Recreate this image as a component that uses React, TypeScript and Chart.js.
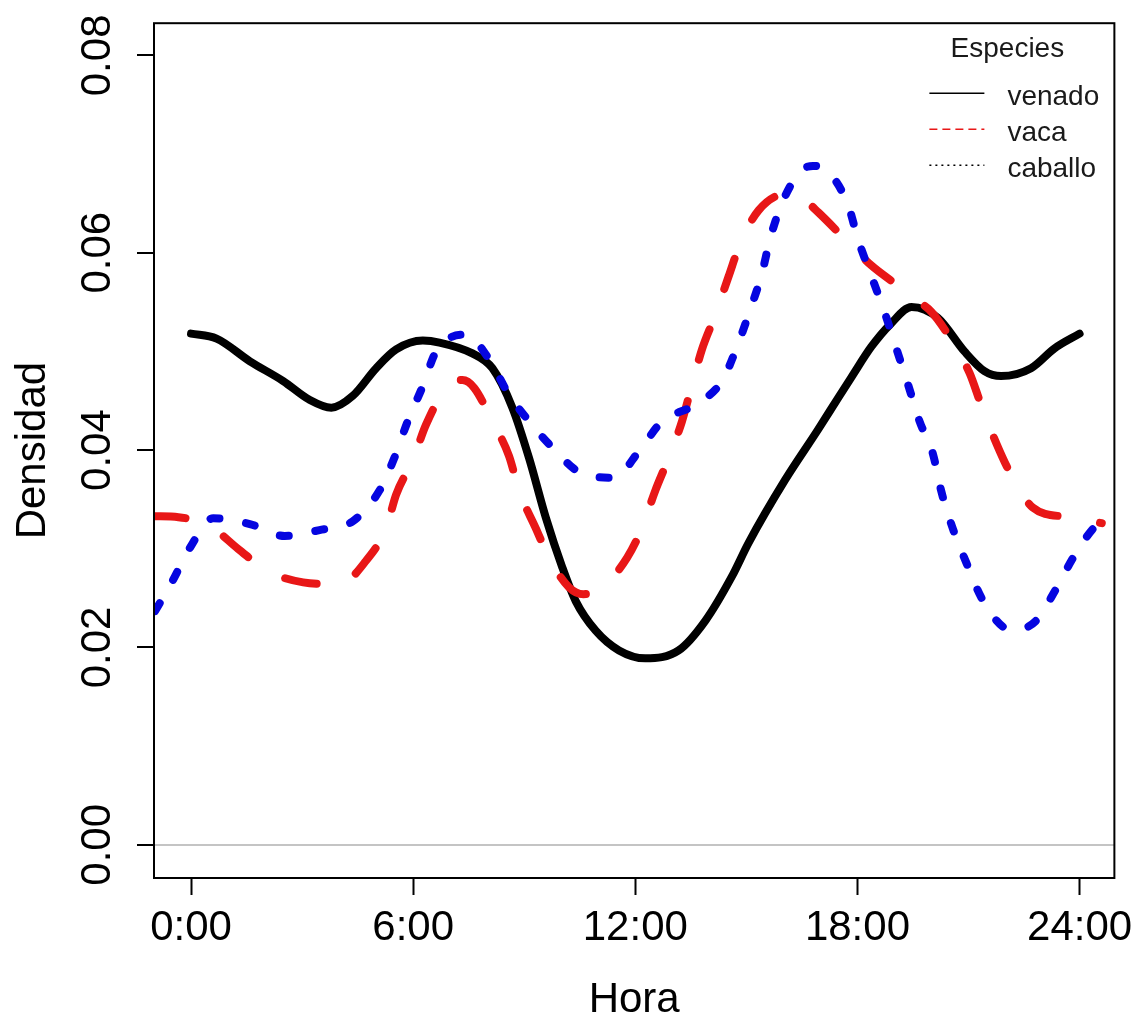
import React, { useEffect, useRef } from "react";
import { Chart, registerables } from "chart.js";

Chart.register(...registerables);

// ---- data (hours of day vs. density) ----
const venadoHours = [0, 0.69, 1.59, 2.49, 3.2, 3.79, 4.37, 5.0, 5.54, 6.26, 6.71, 7.6, 8.14, 8.68, 9.13, 9.58, 10.03, 10.39, 10.93, 11.56, 12.27, 13.17, 13.89, 14.61, 15.06, 16.05, 16.94, 17.48, 17.84, 18.38, 18.9, 19.46, 20.17, 20.89, 21.43, 21.88, 22.69, 23.32, 24.0];
const venadoDens = [0.0518, 0.0513, 0.049, 0.047, 0.0451, 0.0443, 0.0455, 0.0483, 0.0502, 0.0511, 0.0509, 0.0498, 0.0483, 0.0443, 0.0392, 0.0332, 0.0281, 0.0247, 0.0217, 0.0197, 0.0189, 0.0197, 0.0227, 0.0272, 0.0306, 0.037, 0.0421, 0.0453, 0.0474, 0.0505, 0.0528, 0.0545, 0.0534, 0.05, 0.048, 0.0475, 0.0483, 0.0503, 0.0518];

const vacaHours = [-1.01, -0.34, 0.51, 1.27, 2.04, 3.03, 4.01, 4.73, 5.27, 5.54, 5.99, 6.35, 6.89, 7.33, 7.65, 8.14, 8.59, 8.86, 9.31, 9.67, 10.21, 10.6, 11.11, 11.78, 12.18, 12.54, 12.9, 13.26, 13.53, 13.8, 14.16, 14.52, 14.83, 15.33, 16.13, 16.58, 16.94, 17.66, 18.38, 19.19, 19.55, 20.0, 20.53, 21.03, 21.34, 21.75, 22.15, 22.73, 23.68, 24.6];
const vacaDens = [0.0333, 0.0332, 0.0323, 0.03, 0.0278, 0.0266, 0.0264, 0.0288, 0.0321, 0.0355, 0.039, 0.0426, 0.0463, 0.0471, 0.0463, 0.0429, 0.0394, 0.0359, 0.0321, 0.0291, 0.0261, 0.0254, 0.0261, 0.0291, 0.0321, 0.0359, 0.0392, 0.0429, 0.0466, 0.0502, 0.0537, 0.0576, 0.0609, 0.0643, 0.066, 0.0653, 0.0641, 0.0614, 0.0587, 0.0564, 0.0553, 0.054, 0.0512, 0.0478, 0.0446, 0.0407, 0.0375, 0.0342, 0.0332, 0.0326];

const caballoHours = [-0.97, -0.52, -0.03, 0.6, 1.59, 2.53, 3.47, 4.37, 5.09, 5.49, 5.85, 6.26, 6.62, 7.43, 8.05, 8.59, 9.18, 9.8, 10.52, 11.42, 12.14, 12.72, 13.62, 14.34, 14.75, 15.1, 15.42, 15.64, 15.96, 16.45, 16.8, 17.21, 17.75, 18.02, 18.38, 18.74, 19.05, 19.37, 19.68, 20.04, 20.26, 20.58, 20.94, 21.34, 21.93, 22.25, 22.82, 23.36, 23.86, 24.49, 24.67];
const caballoDens = [0.0237, 0.0266, 0.0301, 0.0331, 0.0325, 0.0313, 0.0319, 0.0328, 0.0359, 0.0392, 0.0429, 0.0465, 0.05, 0.0517, 0.0492, 0.0456, 0.0427, 0.0401, 0.0377, 0.0372, 0.0401, 0.0429, 0.0446, 0.047, 0.0505, 0.0542, 0.0579, 0.0614, 0.065, 0.0682, 0.0688, 0.0682, 0.0648, 0.0613, 0.0576, 0.0539, 0.0503, 0.0466, 0.0429, 0.0396, 0.0359, 0.032, 0.0286, 0.0251, 0.0221, 0.0218, 0.0227, 0.0259, 0.0293, 0.0325, 0.0327];

const xTickHours = [0, 6, 12, 18, 24];
const xTickLabels = ["0:00", "6:00", "12:00", "18:00", "24:00"];
const yTickValues = [0, 0.02, 0.04, 0.06, 0.08];
const yTickLabels = ["0.00", "0.02", "0.04", "0.06", "0.08"];
const seriesNames = ["venado", "vaca", "caballo"];
const legendTitle = "Especies";
const xTitle = "Hora";
const yTitle = "Densidad";

const W = 1141;
const H = 1022;
const FONT = "'Liberation Sans', Arial, Helvetica, sans-serif";
const RED = "#e81717";
const BLUE = "#0505e0";

const toPoints = (xs: number[], ys: number[]) => xs.map((x, i) => ({ x, y: ys[i] }));

const boxPlugin = {
  id: "rbox",
  afterDatasetsDraw(chart: any) {
    const { ctx, chartArea: a } = chart;
    ctx.save();
    ctx.strokeStyle = "#000";
    ctx.lineWidth = 2;
    ctx.setLineDash([]);
    ctx.strokeRect(a.left, a.top, a.right - a.left, a.bottom - a.top);
    ctx.restore();
  },
};

const legendPlugin = {
  id: "rlegend",
  afterDraw(chart: any) {
    const { ctx, chartArea: a } = chart;
    const styles = [
      { color: "#000", dash: [] as number[] },
      { color: RED, dash: [8, 5] },
      { color: "#000", dash: [2, 4] },
    ];
    const cx = a.right - 107;
    const lx0 = a.right - 185;
    const lx1 = a.right - 130;
    const tx = a.right - 107;
    ctx.save();
    ctx.font = `28px ${FONT}`;
    ctx.fillStyle = "#1a1a1a";
    ctx.textBaseline = "alphabetic";
    ctx.textAlign = "center";
    ctx.fillText(legendTitle, cx, a.top + 34);
    ctx.textAlign = "left";
    seriesNames.forEach((name, i) => {
      const ly = a.top + 70 + i * 36;
      ctx.beginPath();
      ctx.setLineDash(styles[i].dash);
      ctx.strokeStyle = styles[i].color;
      ctx.lineWidth = 1.5;
      ctx.moveTo(lx0, ly);
      ctx.lineTo(lx1, ly);
      ctx.stroke();
      ctx.setLineDash([]);
      ctx.fillText(name, tx, ly + 12);
    });
    ctx.restore();
  },
};

export default function App() {
  const ref = useRef<HTMLCanvasElement>(null);

  useEffect(() => {
    if (!ref.current) return;
    const chart = new Chart(ref.current, {
      type: "line",
      data: {
        datasets: [
          {
            label: seriesNames[0],
            data: toPoints(venadoHours, venadoDens),
            borderColor: "#000",
            borderWidth: 8,
            pointRadius: 0,
            cubicInterpolationMode: "monotone",
            borderCapStyle: "round",
            borderJoinStyle: "round",
            fill: false,
            order: 3,
          },
          {
            label: seriesNames[1],
            data: toPoints(vacaHours, vacaDens),
            borderColor: RED,
            borderWidth: 8,
            borderDash: [32, 43],
            pointRadius: 0,
            cubicInterpolationMode: "monotone",
            borderCapStyle: "round",
            borderJoinStyle: "round",
            fill: false,
            order: 2,
          },
          {
            label: seriesNames[2],
            data: toPoints(caballoHours, caballoDens),
            borderColor: BLUE,
            borderWidth: 8,
            borderDash: [9, 27],
            pointRadius: 0,
            cubicInterpolationMode: "monotone",
            borderCapStyle: "round",
            borderJoinStyle: "round",
            fill: false,
            order: 1,
          },
        ],
      } as any,
      options: {
        responsive: false,
        animation: false,
        devicePixelRatio: 1,
        layout: { padding: { left: 0, top: 21, right: 24, bottom: 0 } },
        plugins: { legend: { display: false }, tooltip: { enabled: false } },
        scales: {
          x: {
            type: "linear",
            min: -1,
            max: 24.94,
            afterBuildTicks: (s: any) => {
              s.ticks = xTickHours.map((v) => ({ value: v }));
            },
            afterFit: (s: any) => {
              s.height = 144;
            },
            ticks: {
              autoSkip: false,
              maxRotation: 0,
              minRotation: 0,
              padding: 8,
              color: "#000",
              font: { family: FONT, size: 42 },
              callback: (_v: any, i: number) => xTickLabels[i],
            },
            grid: {
              drawOnChartArea: false,
              drawTicks: true,
              tickLength: 17,
              tickColor: "#000",
              tickWidth: 2,
              color: "#000",
            },
            border: { display: false },
            title: {
              display: true,
              text: xTitle,
              color: "#000",
              font: { family: FONT, size: 42, lineHeight: 1 },
              padding: { top: 0, bottom: 1 },
            },
          },
          y: {
            type: "linear",
            min: -0.00336,
            max: 0.08326,
            afterBuildTicks: (s: any) => {
              s.ticks = yTickValues.map((v) => ({ value: v }));
            },
            afterFit: (s: any) => {
              s.width = 154;
            },
            ticks: {
              autoSkip: false,
              minRotation: 90,
              maxRotation: 90,
              crossAlign: "center",
              padding: -2,
              color: "#000",
              font: { family: FONT, size: 42 },
              callback: (_v: any, i: number) => yTickLabels[i],
            },
            grid: {
              drawOnChartArea: true,
              drawTicks: true,
              tickLength: 17,
              tickColor: "#000",
              tickWidth: 2,
              lineWidth: 2,
              color: (c: any) => (c.tick && c.tick.value === 0 ? "#c4c4c4" : "rgba(0,0,0,0)"),
            },
            border: { display: false },
            title: {
              display: true,
              text: yTitle,
              color: "#000",
              font: { family: FONT, size: 42, lineHeight: 1 },
              padding: { top: 12, bottom: 0 },
            },
          },
        },
      } as any,
      plugins: [boxPlugin, legendPlugin],
    });
    return () => chart.destroy();
  }, []);

  return (
    <canvas
      ref={ref}
      width={W}
      height={H}
      style={{ position: "fixed", left: 0, top: 0, width: W, height: H, display: "block", background: "#fff" }}
    />
  );
}
